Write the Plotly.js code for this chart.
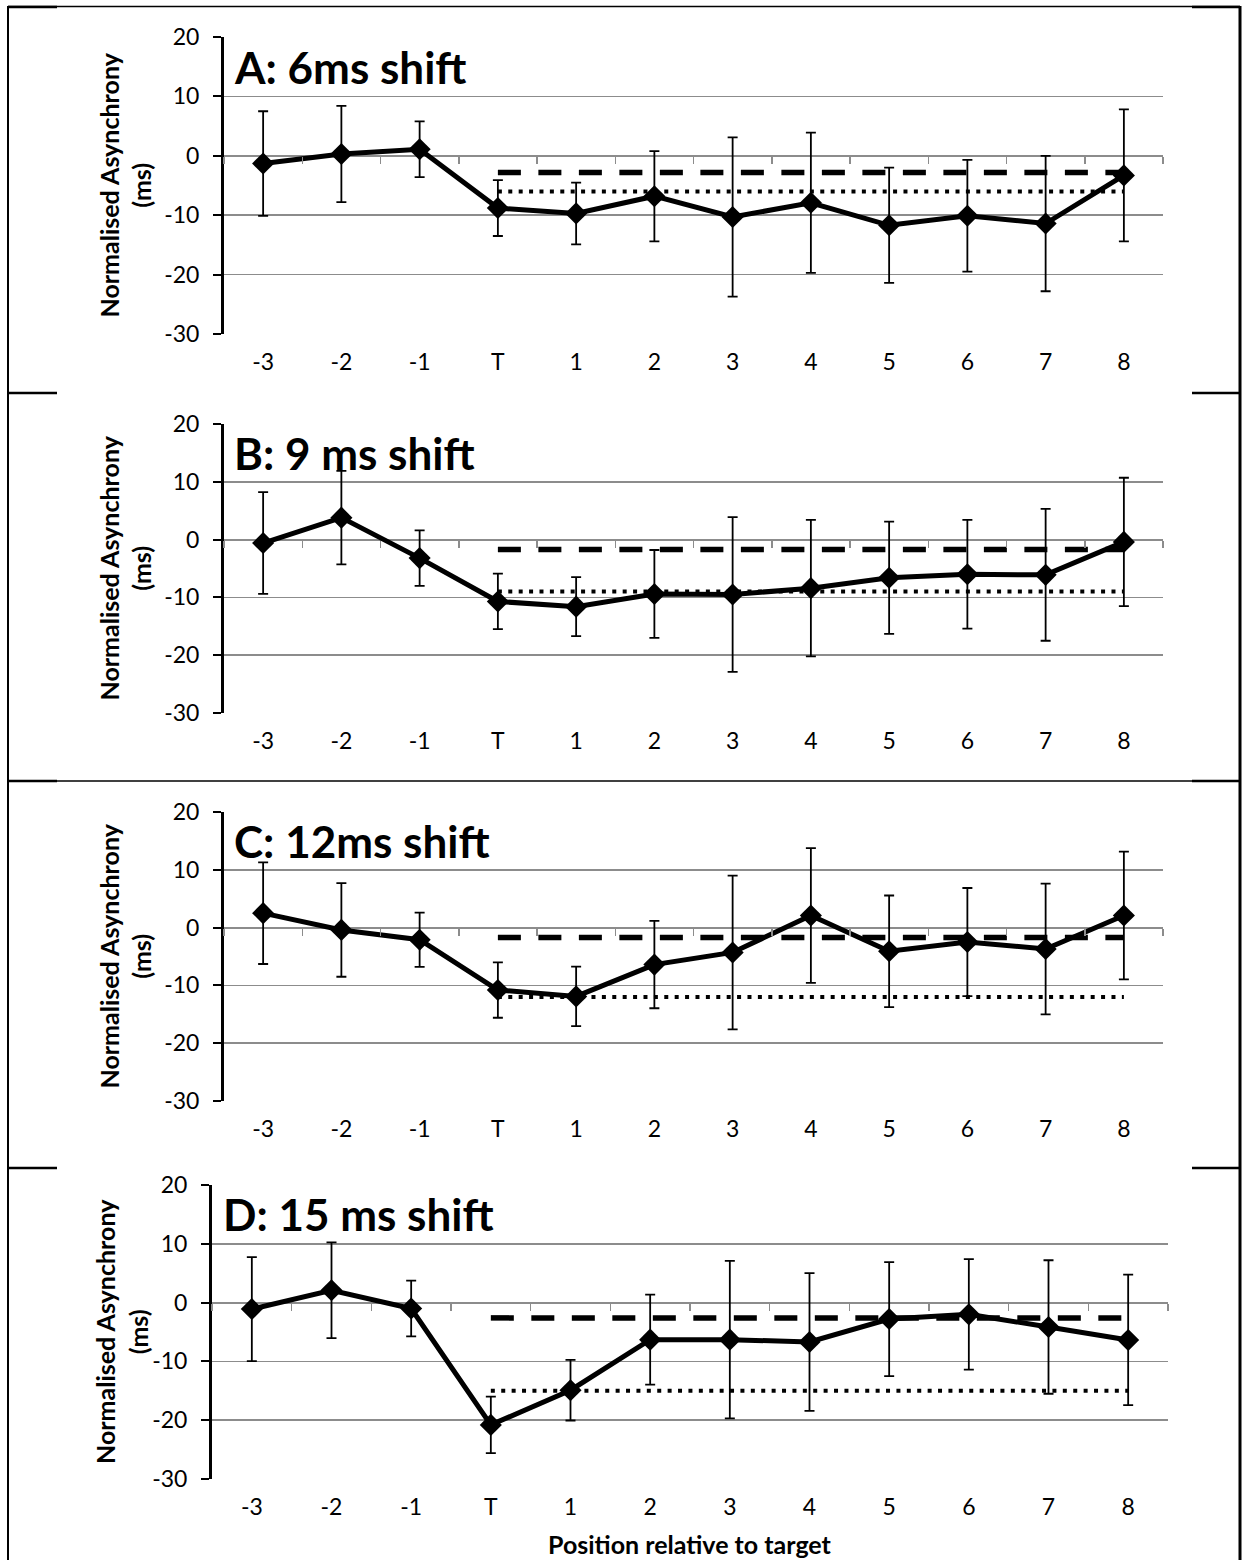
<!DOCTYPE html>
<html>
<head>
<meta charset="utf-8">
<script src="https://cdn.plot.ly/plotly-3.0.1.min.js"></script>
<style>
  html, body { margin: 0; padding: 0; background: #ffffff; }
  #chart { width: 1246px; height: 1560px; }
</style>
</head>
<body>
<div id="chart"></div>
<script>
// ---------------- DATA ----------------
const positions = ['-3', '-2', '-1', 'T', '1', '2', '3', '4', '5', '6', '7', '8'];
const refPositions = ['T', '1', '2', '3', '4', '5', '6', '7', '8'];

const panelTitles = ['A: 6ms shift', 'B: 9 ms shift', 'C: 12ms shift', 'D: 15 ms shift'];

const meanA = [-1.3, 0.3, 1.1, -8.8, -9.7, -6.8, -10.3, -7.9, -11.7, -10.1, -11.4, -3.3];
const errA  = [8.8, 8.1, 4.7, 4.7, 5.2, 7.6, 13.4, 11.8, 9.7, 9.4, 11.4, 11.1];

const meanB = [-0.6, 3.8, -3.2, -10.7, -11.6, -9.4, -9.5, -8.4, -6.6, -6.0, -6.1, -0.4];
const errB  = [8.8, 8.1, 4.8, 4.8, 5.1, 7.6, 13.4, 11.8, 9.7, 9.4, 11.4, 11.1];

const meanC = [2.5, -0.4, -2.1, -10.8, -11.9, -6.4, -4.3, 2.1, -4.1, -2.5, -3.7, 2.1];
const errC  = [8.8, 8.1, 4.7, 4.8, 5.15, 7.55, 13.3, 11.65, 9.65, 9.35, 11.3, 11.05];

const meanD = [-1.1, 2.1, -1.0, -20.8, -14.9, -6.3, -6.3, -6.7, -2.8, -2.0, -4.15, -6.35];
const errD  = [8.85, 8.15, 4.75, 4.8, 5.15, 7.65, 13.4, 11.7, 9.7, 9.4, 11.35, 11.1];

const dashedLevels = [-2.8, -1.7, -1.7, -2.6];   // dashed reference line per panel
const dottedLevels = [-6, -9, -12, -15];         // dotted reference line per panel (-shift)

const yTickVals = [20, 10, 0, -10, -20, -30];

// ---------------- LAYOUT GEOMETRY ----------------
const W = 1246, H = 1560;
const FONT = 'Lato, "Open Sans", sans-serif';
const means = [meanA, meanB, meanC, meanD];
const errs = [errA, errB, errC, errD];

// pixel boxes of plot areas [left, right, top, bottom]
const boxes = [
  [224, 1163, 37, 334],
  [224, 1163, 424, 713],
  [224, 1163, 812, 1101],
  [212, 1168, 1185, 1479]
];

const data = [];
const layout = {
  width: W, height: H,
  margin: {l: 0, r: 0, t: 0, b: 0},
  paper_bgcolor: '#ffffff',
  plot_bgcolor: '#ffffff',
  showlegend: false,
  font: {family: FONT, color: '#000000'},
  annotations: [],
  shapes: []
};

const GRID = '#8c8c8c';

boxes.forEach((b, i) => {
  const n = i + 1;
  const xName = n === 1 ? 'x' : 'x' + n;
  const yName = n === 1 ? 'y' : 'y' + n;
  const xKey = n === 1 ? 'xaxis' : 'xaxis' + n;
  const yKey = n === 1 ? 'yaxis' : 'yaxis' + n;
  const tn = n + 4;
  const tName = 'x' + tn;
  const tKey = 'xaxis' + tn;

  const xd = [b[0] / W, b[1] / W];
  const yd = [1 - b[3] / H, 1 - b[2] / H];

  layout[xKey] = {
    domain: xd, anchor: yName, type: 'category',
    categoryorder: 'array', categoryarray: positions,
    range: [-0.5, positions.length - 0.5],
    showgrid: false, zeroline: false, showline: false,
    ticks: '', ticklabelstandoff: 12,
    tickfont: {family: FONT, size: 23, color: '#000'},
    fixedrange: true
  };
  layout[yKey] = {
    domain: yd, anchor: xName,
    range: [-30, 20], tickmode: 'array', tickvals: yTickVals,
    ticktext: yTickVals.map(String),
    showgrid: true, gridcolor: GRID, gridwidth: 1.5,
    zeroline: true, zerolinecolor: GRID, zerolinewidth: 2,
    showline: true, linecolor: '#000', linewidth: 3,
    ticks: 'outside', ticklen: 8, tickwidth: 2, tickcolor: '#000',
    ticklabelstandoff: 9,
    tickfont: {family: FONT, size: 23, color: '#000'},
    fixedrange: true
  };
  // axis at y=0 carrying the small boundary tick marks
  layout[tKey] = {
    overlaying: xName, anchor: 'free',
    position: yd[0] + 0.6 * (yd[1] - yd[0]),
    side: 'bottom', type: 'category',
    categoryorder: 'array', categoryarray: positions,
    range: [-0.5, positions.length - 0.5],
    tickson: 'boundaries', ticks: 'outside', ticklen: 7,
    tickwidth: 1.5, tickcolor: GRID,
    showticklabels: false, showgrid: false, zeroline: false, showline: false,
    fixedrange: true
  };

  // invisible trace registering categories on tick axis
  data.push({
    type: 'scatter', mode: 'lines', x: positions, y: positions.map(() => null),
    xaxis: tName, yaxis: yName, hoverinfo: 'skip', showlegend: false
  });

  // dotted reference line
  data.push({
    type: 'scatter', mode: 'lines', x: refPositions,
    y: refPositions.map(() => dottedLevels[i]),
    xaxis: xName, yaxis: yName,
    line: {color: '#000', width: 4, dash: '4px,6.4px'},
    hoverinfo: 'skip', showlegend: false
  });
  // dashed reference line
  data.push({
    type: 'scatter', mode: 'lines', x: refPositions,
    y: refPositions.map(() => dashedLevels[i]),
    xaxis: xName, yaxis: yName,
    line: {color: '#000', width: 5.5, dash: '23px,17.5px'},
    hoverinfo: 'skip', showlegend: false
  });
  // main series
  data.push({
    type: 'scatter', mode: 'lines+markers', x: positions, y: means[i],
    xaxis: xName, yaxis: yName,
    line: {color: '#000', width: 5},
    marker: {symbol: 'diamond', size: 17, color: '#000'},
    error_y: {type: 'data', array: errs[i], symmetric: true,
              color: '#000', thickness: 1.8, width: 5},
    showlegend: false
  });

  // panel title
  layout.annotations.push({
    xref: xName + ' domain', yref: yName + ' domain',
    x: 0.009, y: 0.9, xanchor: 'left', yanchor: 'middle',
    text: panelTitles[i], showarrow: false,
    font: {family: FONT, size: 44, weight: 'bold', color: '#000'}
  });
  // y axis title
  layout.annotations.push({
    xref: 'paper', yref: yName + ' domain',
    x: (n === 4 ? 121 : 125) / W, y: 0.5, xanchor: 'center', yanchor: 'middle',
    text: 'Normalised Asynchrony<br>(ms)', textangle: -90, showarrow: false,
    font: {family: FONT, size: 25, weight: 'bold', color: '#000'}
  });
});

// x axis title (bottom panel)
layout.annotations.push({
  xref: 'x4 domain', yref: 'paper',
  x: 0.5, y: 1 - 1544 / H, xanchor: 'center', yanchor: 'middle',
  text: 'Position relative to target', showarrow: false,
  font: {family: FONT, size: 25, weight: 'bold', color: '#000'}
});

// frame lines of the figure cells
function hline(y, x0, x1, w) {
  layout.shapes.push({type: 'line', xref: 'paper', yref: 'paper',
    x0: x0 / W, x1: x1 / W, y0: 1 - y / H, y1: 1 - y / H,
    line: {color: '#000', width: w}});
}
function vline(x, y0, y1, w) {
  layout.shapes.push({type: 'line', xref: 'paper', yref: 'paper',
    x0: x / W, x1: x / W, y0: 1 - y0 / H, y1: 1 - y1 / H,
    line: {color: '#000', width: w}});
}
vline(8, 6, 1560, 2);
vline(1240, 6, 1560, 3);
hline(6.5, 8, 1240, 1.5);
hline(781, 8, 1240, 1.5);
[7, 393, 781, 1168].forEach(y => {
  hline(y, 8, 57, 2.5);
  hline(y, 1192, 1240, 2.5);
});

Plotly.newPlot('chart', data, layout, {staticPlot: true, displayModeBar: false});
</script>
</body>
</html>
